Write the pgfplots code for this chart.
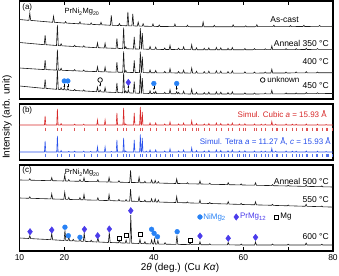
\documentclass[border=0pt]{standalone}
\usepackage{pgfplots}
\pgfplotsset{compat=1.18}
\usepackage{fontspec}
\setmainfont{Liberation Sans}
\usetikzlibrary{arrows.meta}
\definecolor{simred}{RGB}{215,40,40}
\definecolor{simblue}{RGB}{40,80,235}
\definecolor{nimg}{RGB}{40,130,245}
\definecolor{prmg}{RGB}{75,60,235}
\pgfplotsset{
  panel/.style={scale only axis, width=313.5pt, xmin=10, xmax=80,
    ytick=\empty, tick align=inside, major tick length=4pt, minor tick length=4pt,
    axis line style={line width=1.1pt, black},
    every tick/.style={line width=0.8pt, black},
    /pgf/number format/assume math mode=true},
  trace/.style={black!90, line width=0.6pt},
}
\newcommand{\lab}{\fontsize{8.5}{10}\selectfont}
\newcommand{\sml}{\fontsize{8}{9.5}\selectfont}
\begin{document}
\begin{tikzpicture}
\useasboundingbox (0,0) rectangle (339pt,275pt);
% ---------------- (a)
\begin{axis}[panel, at={(19.5pt,176pt)}, anchor=south west, height=98pt,
  ymin=176, ymax=274, xtick={10,20,...,80}, xtick pos=right, xticklabel=\empty]
% As-cast
\addplot[trace] coordinates {(10,255.5)
(12.1,254.6)(12.3,261.9)(12.5,254.6)
(17.4,252.7)(17.6,258.7)(17.8,252.7)
(20.1,251.9)(20.3,253.4)(20.5,251.9)
(23.3,251.2)(23.5,253.2)(23.7,251.2)
(25.8,250.6)(26.0,252.1)(26.2,250.6)
(28.0,250.2)(28.2,252.7)(28.4,250.2)
(30.3,249.7)(30.5,259.7)(30.7,249.7)
(32.1,249.5)(32.3,251.5)(32.5,249.5)
(34.0,249.2)(34.2,263.2)(34.4,249.2)
(35.1,249.1)(35.3,261.1)(35.5,249.1)
(36.3,248.9)(36.5,252.9)(36.7,248.9)
(37.4,248.8)(37.6,251.3)(37.8,248.8)
(39.6,248.6)(39.8,251.1)(40.0,248.6)
(41.0,248.5)(41.2,250.0)(41.4,248.5)
(44.5,248.4)(44.7,250.9)(44.9,248.4)
(47.3,248.3)(47.5,249.8)(47.7,248.3)
(50.8,248.2)(51.0,253.0)(51.2,248.2)
(53.3,248.2)(53.5,249.7)(53.7,248.2)
(57.5,248.2)(57.7,250.2)(57.9,248.2)
(60.3,248.2)(60.5,249.2)(60.7,248.2)
(62.8,248.3)(63.0,250.3)(63.2,248.3)
(66.6,248.3)(66.8,249.8)(67.0,248.3)
(70.3,248.4)(70.5,249.4)(70.7,248.4)
(73.3,248.5)(73.5,249.7)(73.7,248.5)
(76.8,248.6)(77.0,249.6)(77.2,248.6)
(80,248.7)};
% Anneal 350
\addplot[trace] coordinates {(10,232.5)
(15.52,230.3)(15.72,239.8)(15.92,230.3)
(18.26,229.5)(18.46,250.0)(18.66,229.5)
(19.09,229.2)(19.29,231.2)(19.49,229.2)
(22.11,228.5)(22.31,229.7)(22.51,228.5)
(24.14,228.0)(24.34,229.2)(24.54,228.0)
(27.21,227.3)(27.41,232.1)(27.61,227.3)
(28.91,227.0)(29.11,231.8)(29.31,227.0)
(31.55,226.6)(31.75,236.6)(31.95,226.6)
(33.05,226.3)(33.25,247.3)(33.45,226.3)
(33.53,226.3)(33.73,228.3)(33.93,226.3)
(35.42,226.0)(35.62,238.0)(35.82,226.0)
(36.78,225.9)(36.98,246.9)(37.18,225.9)
(37.22,225.9)(37.42,241.9)(37.62,225.9)
(38.95,225.7)(39.15,228.5)(39.35,225.7)
(40.21,225.6)(40.41,227.9)(40.61,225.6)
(42.23,225.5)(42.43,227.0)(42.63,225.5)
(43.41,225.5)(43.61,229.7)(43.81,225.5)
(45.32,225.4)(45.52,226.9)(45.72,225.4)
(46.44,225.3)(46.64,228.1)(46.84,225.3)
(48.25,225.3)(48.45,230.3)(48.65,225.3)
(49.32,225.2)(49.52,227.1)(49.72,225.2)
(51.05,225.2)(51.25,226.7)(51.45,225.2)
(52.08,225.2)(52.28,227.1)(52.48,225.2)
(53.76,225.2)(53.96,227.5)(54.16,225.2)
(54.74,225.2)(54.94,227.1)(55.14,225.2)
(56.36,225.2)(56.56,226.7)(56.76,225.2)
(57.32,225.2)(57.52,227.5)(57.72,225.2)
(60.13,225.2)(60.33,226.5)(60.53,225.2)
(62.27,225.3)(62.47,226.4)(62.67,225.3)
(64.67,225.3)(64.87,226.3)(65.07,225.3)
(66.14,225.3)(66.34,229.1)(66.54,225.3)
(69.32,225.4)(69.52,226.4)(69.72,225.4)
(71.58,225.4)(71.78,226.4)(71.98,225.4)
(73.83,225.5)(74.03,226.8)(74.23,225.5)
(76.34,225.6)(76.54,226.4)(76.74,225.6)
(80,225.7)};
% Anneal 400
\addplot[trace] coordinates {(10,207)
(15.52,205.4)(15.72,214.9)(15.92,205.4)
(18.26,204.9)(18.46,225.4)(18.66,204.9)
(19.09,204.7)(19.29,206.7)(19.49,204.7)
(22.11,204.2)(22.31,205.4)(22.51,204.2)
(24.14,203.8)(24.34,205.0)(24.54,203.8)
(27.21,203.4)(27.41,208.2)(27.61,203.4)
(28.91,203.1)(29.11,207.9)(29.31,203.1)
(31.55,202.8)(31.75,212.8)(31.95,202.8)
(33.05,202.7)(33.25,223.7)(33.45,202.7)
(33.53,202.6)(33.73,204.6)(33.93,202.6)
(35.42,202.5)(35.62,214.5)(35.82,202.5)
(36.78,202.4)(36.98,223.4)(37.18,202.4)
(37.22,202.4)(37.42,218.4)(37.62,202.4)
(38.95,202.2)(39.15,205.0)(39.35,202.2)
(40.21,202.2)(40.41,204.5)(40.61,202.2)
(42.23,202.1)(42.43,203.6)(42.63,202.1)
(43.41,202.1)(43.61,206.3)(43.81,202.1)
(45.32,202.0)(45.52,203.5)(45.72,202.0)
(46.44,202.0)(46.64,204.8)(46.84,202.0)
(48.25,201.9)(48.45,206.9)(48.65,201.9)
(49.32,201.9)(49.52,203.8)(49.72,201.9)
(51.05,201.9)(51.25,203.4)(51.45,201.9)
(52.08,201.9)(52.28,203.8)(52.48,201.9)
(53.76,201.9)(53.96,204.2)(54.16,201.9)
(54.74,201.9)(54.94,203.8)(55.14,201.9)
(56.36,201.9)(56.56,203.4)(56.76,201.9)
(57.32,201.9)(57.52,204.2)(57.72,201.9)
(60.13,201.9)(60.33,203.2)(60.53,201.9)
(62.27,201.9)(62.47,203.0)(62.67,201.9)
(64.67,202.0)(64.87,203.0)(65.07,202.0)
(66.14,202.0)(66.34,205.8)(66.54,202.0)
(69.32,202.0)(69.52,203.0)(69.72,202.0)
(71.58,202.1)(71.78,203.1)(71.98,202.1)
(73.83,202.1)(74.03,203.4)(74.23,202.1)
(76.34,202.2)(76.54,203.0)(76.74,202.2)
(80,202.2)};
% Anneal 450
\addplot[trace] coordinates {(10,189)
(15.52,186.6)(15.72,195.6)(15.92,186.6)
(18.26,185.7)(18.46,205.2)(18.66,185.7)
(19.09,185.4)(19.29,187.3)(19.49,185.4)
(19.8,185.2)(20.0,186.8)(20.2,185.2)
(20.6,184.9)(20.8,186.5)(21.0,184.9)
(22.11,184.5)(22.31,185.6)(22.51,184.5)
(24.14,184.0)(24.34,185.1)(24.54,184.0)
(27.21,183.3)(27.41,187.9)(27.61,183.3)
(27.8,183.2)(28.0,185.0)(28.2,183.2)
(28.91,182.9)(29.11,187.5)(29.31,182.9)
(31.55,182.5)(31.75,192.0)(31.95,182.5)
(33.05,182.2)(33.25,202.2)(33.45,182.2)
(33.53,182.2)(33.73,184.1)(33.93,182.2)
(34.1,182.1)(34.3,185.1)(34.5,182.1)
(35.42,181.9)(35.62,193.3)(35.82,181.9)
(36.78,181.7)(36.98,201.7)(37.18,181.7)
(37.22,181.7)(37.42,196.9)(37.62,181.7)
(38.95,181.5)(39.15,184.2)(39.35,181.5)
(39.8,181.4)(40.0,183.0)(40.2,181.4)
(40.25,181.4)(40.41,183.6)(40.61,181.4)
(42.23,181.3)(42.43,182.7)(42.63,181.3)
(43.41,181.3)(43.61,185.3)(43.81,181.3)
(44.9,181.2)(45.1,183.4)(45.3,181.2)
(45.35,181.2)(45.52,182.6)(45.72,181.2)
(46.44,181.1)(46.64,183.8)(46.84,181.1)
(48.25,181.0)(48.45,185.8)(48.65,181.0)
(49.32,181.0)(49.52,182.8)(49.72,181.0)
(51.05,181.0)(51.25,182.4)(51.45,181.0)
(52.08,181.0)(52.28,182.8)(52.48,181.0)
(53.76,181.0)(53.96,183.2)(54.16,181.0)
(54.74,181.0)(54.94,182.8)(55.14,181.0)
(56.36,181.0)(56.56,182.4)(56.76,181.0)
(57.32,181.0)(57.52,183.2)(57.72,181.0)
(60.13,181.0)(60.33,182.2)(60.53,181.0)
(62.27,181.0)(62.47,182.0)(62.67,181.0)
(64.67,181.1)(64.87,182.0)(65.07,181.1)
(66.14,181.1)(66.34,184.7)(66.54,181.1)
(69.32,181.2)(69.52,182.1)(69.72,181.2)
(71.58,181.2)(71.78,182.1)(71.98,181.2)
(73.83,181.3)(74.03,182.5)(74.23,181.3)
(76.34,181.4)(76.54,182.2)(76.74,181.4)
(80,181.5)};
% arrows
\addplot[black, line width=0.45pt, -{Stealth[length=1.8pt,width=1.8pt]},
  quiver={u=\thisrow{u}, v=\thisrow{v}}] table {
x y u v
20.0 190.8 0 -3.6
20.8 190.8 0 -3.6
28.0 192.0 0 -3.5
34.3 189.6 0 -3.2
40.0 188.9 0 -3.8
45.1 188.9 0 -3.8
};
\addplot[only marks, mark=*, mark size=2.4pt, color=nimg] coordinates {(20.0,194)(20.8,194)(40.0,191.5)(45.1,191.5)};
\addplot[only marks, mark=diamond*, mark size=3.2pt, color=prmg] coordinates {(34.3,192.6)};
\addplot[only marks, mark=o, mark size=2.3pt, black, mark options={line width=0.7pt}] coordinates {(28.0,195)(64.3,195)};
\node[anchor=west, font=\sml, inner sep=0pt] at (axis cs:65.3,195) {unknown};
\node[anchor=west, font=\sml, inner sep=0pt] at (axis cs:10.6,268) {(a)};
\node[font=\fontsize{7.5}{9}\selectfont, inner sep=0pt] at (axis cs:23.95,263) {PrNi\textsubscript{2}Mg\textsubscript{20}};
\node[anchor=east, font=\lab, inner sep=0pt] at (axis cs:72.4,255.7) {As-cast};
\node[anchor=east, font=\lab, inner sep=0pt] at (axis cs:79.1,232) {Anneal 350 °C};
\node[anchor=east, font=\lab, inner sep=0pt] at (axis cs:79.1,213) {400 °C};
\node[anchor=east, font=\lab, inner sep=0pt] at (axis cs:79.1,189) {450 °C};
\end{axis}
% ---------------- (b)
\begin{axis}[panel, at={(19.5pt,115pt)}, anchor=south west, height=56pt,
  ymin=115, ymax=171, xtick=\empty]
\addplot[simred, line width=0.6pt] coordinates {(10,150)
(15.57,150)(15.72,159)(15.87,150)
(18.31,150)(18.46,166)(18.61,150)
(19.14,150)(19.29,151.5)(19.44,150)
(22.16,150)(22.31,150.8)(22.46,150)
(24.19,150)(24.34,150.8)(24.49,150)
(27.26,150)(27.41,155)(27.56,150)
(28.96,150)(29.11,155)(29.26,150)
(31.6,150)(31.75,162)(31.9,150)
(33.1,150)(33.25,167)(33.4,150)
(33.58,150)(33.73,151)(33.88,150)
(35.47,150)(35.62,162)(35.77,150)
(36.83,150)(36.98,168)(37.13,150)
(37.27,150)(37.42,163)(37.57,150)
(39.0,150)(39.15,152)(39.3,150)
(40.26,150)(40.41,152)(40.56,150)
(42.28,150)(42.43,151)(42.58,150)
(43.46,150)(43.61,153)(43.76,150)
(45.37,150)(45.52,151)(45.67,150)
(46.49,150)(46.64,152)(46.79,150)
(48.3,150)(48.45,154)(48.6,150)
(49.37,150)(49.52,151.5)(49.67,150)
(51.1,150)(51.25,151)(51.4,150)
(52.13,150)(52.28,151.5)(52.43,150)
(53.81,150)(53.96,152)(54.11,150)
(54.79,150)(54.94,151.5)(55.09,150)
(56.41,150)(56.56,151.2)(56.71,150)
(57.37,150)(57.52,152)(57.67,150)
(58.94,150)(59.09,151)(59.24,150)
(60.18,150)(60.33,151.2)(60.48,150)
(62.32,150)(62.47,151)(62.62,150)
(63.83,150)(63.98,150.8)(64.13,150)
(64.72,150)(64.87,150.8)(65.02,150)
(66.19,150)(66.34,153.5)(66.49,150)
(67.06,150)(67.21,150.8)(67.36,150)
(69.37,150)(69.52,151)(69.67,150)
(70.78,150)(70.93,150.8)(71.08,150)
(71.63,150)(71.78,150.8)(71.93,150)
(73.88,150)(74.03,151)(74.18,150)
(76.39,150)(76.54,150.8)(76.69,150)
(78.32,150)(78.47,150.6)(78.62,150)
(80,150)};
\addplot[simblue, line width=0.6pt] coordinates {(10,123)
(15.57,123)(15.72,134)(15.87,123)
(18.31,123)(18.46,139)(18.61,123)
(19.14,123)(19.29,124.5)(19.44,123)
(20.85,123)(21.0,123.6)(21.15,123)
(22.16,123)(22.31,123.8)(22.46,123)
(24.19,123)(24.34,123.8)(24.49,123)
(25.75,123)(25.9,123.6)(26.05,123)
(27.26,123)(27.41,128)(27.56,123)
(28.96,123)(29.11,128)(29.26,123)
(30.35,123)(30.5,123.6)(30.65,123)
(31.6,123)(31.75,135)(31.9,123)
(33.1,123)(33.25,137)(33.4,123)
(33.58,123)(33.73,124)(33.88,123)
(35.47,123)(35.62,135)(35.77,123)
(36.83,123)(36.98,140.5)(37.13,123)
(37.27,123)(37.42,137)(37.57,123)
(38.15,123)(38.3,123.8)(38.45,123)
(39.0,123)(39.15,125)(39.3,123)
(40.26,123)(40.41,125)(40.56,123)
(42.28,123)(42.43,124)(42.58,123)
(43.46,123)(43.61,126)(43.76,123)
(45.37,123)(45.52,124)(45.67,123)
(46.49,123)(46.64,125)(46.79,123)
(48.3,123)(48.45,127)(48.6,123)
(49.37,123)(49.52,124.5)(49.67,123)
(51.1,123)(51.25,124)(51.4,123)
(52.13,123)(52.28,124.5)(52.43,123)
(53.81,123)(53.96,125)(54.11,123)
(54.79,123)(54.94,124.5)(55.09,123)
(56.41,123)(56.56,124.2)(56.71,123)
(57.37,123)(57.52,125)(57.67,123)
(58.94,123)(59.09,124)(59.24,123)
(60.18,123)(60.33,124.2)(60.48,123)
(62.32,123)(62.47,124)(62.62,123)
(63.83,123)(63.98,123.8)(64.13,123)
(64.72,123)(64.87,123.8)(65.02,123)
(66.19,123)(66.34,126.5)(66.49,123)
(67.06,123)(67.21,123.8)(67.36,123)
(69.37,123)(69.52,124)(69.67,123)
(70.78,123)(70.93,123.8)(71.08,123)
(71.63,123)(71.78,123.8)(71.93,123)
(73.88,123)(74.03,124)(74.18,123)
(76.39,123)(76.54,123.8)(76.69,123)
(78.32,123)(78.47,123.6)(78.62,123)
(80,123)};
\addplot[simred!80, only marks, mark=|, mark size=1.5pt, mark options={line width=0.35pt}] coordinates {
(15.72,145.8)(18.46,145.8)(19.29,145.8)(22.31,145.8)(24.34,145.8)(27.41,145.8)(29.11,145.8)
(31.75,145.8)(33.25,145.8)(33.73,145.8)(35.62,145.8)(36.98,145.8)(37.42,145.8)(39.15,145.8)
(40.41,145.8)(42.43,145.8)(43.61,145.8)(45.52,145.8)(46.64,145.8)(47.00,145.8)(48.45,145.8)
(49.52,145.8)(49.87,145.8)(51.25,145.8)(52.28,145.8)(53.96,145.8)(54.94,145.8)(56.56,145.8)
(57.52,145.8)(59.09,145.8)(60.03,145.8)(60.33,145.8)(62.47,145.8)(62.78,145.8)(63.98,145.8)
(64.87,145.8)(66.34,145.8)(67.21,145.8)(67.50,145.8)(68.66,145.8)(69.52,145.8)(70.93,145.8)
(71.78,145.8)(73.19,145.8)(74.03,145.8)(74.31,145.8)(75.42,145.8)(76.26,145.8)(76.54,145.8)
(77.64,145.8)(78.47,145.8)(78.74,145.8)(79.84,145.8)};
\addplot[simblue!80, only marks, mark=|, mark size=1.5pt, mark options={line width=0.35pt}] coordinates {
(15.72,119.5)(18.46,119.5)(19.29,119.5)(21.0,119.5)(22.31,119.5)(24.34,119.5)(25.9,119.5)(27.41,119.5)(29.11,119.5)
(30.5,119.5)(31.75,119.5)(33.25,119.5)(33.73,119.5)(34.6,119.5)(35.62,119.5)(36.98,119.5)(37.42,119.5)(38.3,119.5)(39.15,119.5)
(40.41,119.5)(41.3,119.5)(42.43,119.5)(43.61,119.5)(44.2,119.5)(45.52,119.5)(46.64,119.5)(47.00,119.5)(48.45,119.5)
(49.52,119.5)(49.87,119.5)(50.6,119.5)(51.25,119.5)(52.28,119.5)(53.96,119.5)(54.94,119.5)(55.8,119.5)(56.56,119.5)
(57.52,119.5)(58.5,119.5)(59.09,119.5)(60.03,119.5)(60.33,119.5)(61.2,119.5)(62.47,119.5)(62.78,119.5)(63.98,119.5)
(64.87,119.5)(65.5,119.5)(66.34,119.5)(67.21,119.5)(67.50,119.5)(68.66,119.5)(69.52,119.5)(70.93,119.5)
(71.78,119.5)(72.4,119.5)(73.19,119.5)(74.03,119.5)(74.31,119.5)(75.42,119.5)(76.26,119.5)(76.54,119.5)
(77.64,119.5)(78.47,119.5)(78.74,119.5)(79.0,119.5)(79.84,119.5)};
\node[anchor=west, font=\sml, inner sep=0pt] at (axis cs:10.6,165) {(b)};
\node[anchor=east, font=\sml, text=simred, inner sep=0pt] at (axis cs:78.65,161) {Simul. Cubic \textit{a} = 15.93 Å};
\node[anchor=east, font=\sml, text=simblue, inner sep=0pt] at (axis cs:79.55,133) {Simul. Tetra \textit{a} = 11.27 Å, \textit{c} = 15.93 Å};
\end{axis}
% ---------------- (c)
\begin{axis}[panel, at={(19.5pt,24pt)}, anchor=south west, height=86pt,
  ymin=24, ymax=110, xtick={10,20,40,60,80}, minor xtick={30,50,70}, xtick pos=left,
  xticklabel style={font=\fontsize{8.5}{10}\selectfont}]
% 500
\addplot[trace] coordinates {(10,95)
(12.1,94.8)(12.3,96.3)(12.5,94.8)
(17.0,94.3)(17.2,97.3)(17.4,94.3)
(19.9,94.0)(20.1,100.0)(20.3,94.0)
(20.8,93.9)(21.0,95.4)(21.2,93.9)
(23.3,93.7)(23.5,95.2)(23.7,93.6)
(24.2,93.6)(24.4,97.1)(24.6,93.5)
(27.3,93.3)(27.5,95.3)(27.7,93.2)
(29.8,93.0)(30.0,97.5)(30.2,93.0)
(32.0,92.8)(32.2,94.3)(32.4,92.8)
(34.6,92.5)(34.8,104.5)(35.0,92.5)
(36.5,92.4)(36.7,97.8)(36.9,92.3)
(37.8,92.2)(38.0,93.7)(38.2,92.2)
(39.3,92.1)(39.5,95.0)(39.7,92.0)
(40.1,92.0)(40.3,94.5)(40.5,91.9)
(40.8,91.9)(41.0,93.4)(41.2,91.9)
(44.9,91.5)(45.1,96.0)(45.3,91.5)
(47.3,91.3)(47.5,92.3)(47.7,91.2)
(50.1,91.0)(50.3,94.0)(50.5,91.0)
(52.3,90.8)(52.5,91.8)(52.7,90.7)
(56.4,90.4)(56.6,92.3)(56.8,90.3)
(59.3,90.1)(59.5,91.1)(59.7,90.0)
(62.5,89.8)(62.7,92.2)(62.9,89.7)
(66.3,89.4)(66.5,90.4)(66.7,89.3)
(69.8,89.0)(70.0,89.8)(70.2,89.0)
(73.8,88.6)(74.0,90.1)(74.2,88.6)
(77.3,88.3)(77.5,89.1)(77.7,88.2)
(80,88)};
% 550
\addplot[trace] coordinates {(10,77.0)
(12.1,76.7)(12.3,78.2)(12.5,76.7)
(17.0,76.1)(17.2,81.1)(17.4,76.0)
(19.9,75.7)(20.1,82.7)(20.3,75.7)
(20.8,75.6)(21.0,77.6)(21.2,75.5)
(23.3,75.3)(23.5,77.3)(23.7,75.2)
(24.2,75.2)(24.4,80.6)(24.6,75.1)
(27.3,74.8)(27.5,77.2)(27.7,74.7)
(29.8,74.4)(30.0,80.4)(30.2,74.4)
(32.0,74.1)(32.2,75.6)(32.4,74.1)
(33.6,73.9)(33.8,75.4)(34.0,73.9)
(34.6,73.8)(34.8,85.8)(35.0,73.8)
(36.5,73.6)(36.7,78.0)(36.9,73.5)
(37.8,73.4)(38.0,74.9)(38.2,73.3)
(39.3,73.2)(39.5,76.2)(39.7,73.1)
(40.1,73.1)(40.3,76.1)(40.5,73.0)
(40.8,73.0)(41.0,75.0)(41.2,72.9)
(44.9,72.5)(45.1,78.4)(45.3,72.4)
(47.3,72.2)(47.5,73.1)(47.7,72.1)
(50.1,71.8)(50.3,74.8)(50.5,71.7)
(52.3,71.5)(52.5,72.5)(52.7,71.5)
(56.4,71.0)(56.6,73.4)(56.8,70.9)
(59.3,70.6)(59.5,71.6)(59.7,70.5)
(62.5,70.2)(62.7,73.2)(62.9,70.1)
(66.3,69.7)(66.5,70.7)(66.7,69.6)
(69.8,69.2)(70.0,70.0)(70.2,69.2)
(73.8,68.7)(74.0,70.7)(74.2,68.7)
(77.3,68.3)(77.5,69.0)(77.7,68.2)
(80,67.9)};
% 600
\addplot[trace] coordinates {(10,37)
(12.1,36.5)(12.3,39.4)(12.5,36.4)
(17.0,35.3)(17.2,41.7)(17.4,35.2)
(19.95,34.5)(20.15,44.5)(20.35,34.4)
(20.8,34.3)(21.0,37.8)(21.2,34.3)
(21.8,34.1)(22.0,35.6)(22.2,34.1)
(23.3,33.8)(23.5,36.8)(23.7,33.8)
(24.25,33.6)(24.45,42.1)(24.65,33.6)
(25.8,33.3)(26.0,34.8)(26.2,33.3)
(27.3,33.0)(27.5,37.5)(27.7,33.0)
(29.85,32.5)(30.05,42.5)(30.25,32.5)
(32.1,32.2)(32.3,34.6)(32.5,32.1)
(33.6,31.9)(33.8,34.9)(34.0,31.9)
(34.65,31.8)(34.85,59.8)(35.05,31.8)
(36.7,31.5)(36.9,35.5)(37.1,31.5)
(37.8,31.3)(38.0,33.3)(38.2,31.3)
(39.3,31.1)(39.5,35.1)(39.7,31.1)
(39.95,31.0)(40.15,36.0)(40.35,31.0)
(40.7,30.9)(40.9,34.4)(41.1,30.9)
(42.3,30.8)(42.5,32.3)(42.7,30.8)
(44.95,30.6)(45.15,39.6)(45.35,30.6)
(47.9,30.4)(48.1,32.4)(48.3,30.4)
(50.1,30.3)(50.3,33.3)(50.5,30.3)
(52.3,30.2)(52.5,31.2)(52.7,30.2)
(56.4,30.1)(56.6,32.6)(56.8,30.1)
(59.3,30.0)(59.5,31.0)(59.7,30.0)
(62.5,30.0)(62.7,33.0)(62.9,30.0)
(66.3,30.0)(66.5,31.0)(66.7,30.0)
(69.8,30.0)(70.0,30.8)(70.2,30.0)
(73.8,30.0)(74.0,32.0)(74.2,30.0)
(77.3,30.0)(77.5,30.8)(77.7,30.0)
(80,30)};
\addplot[only marks, mark=diamond*, mark size=3.2pt, color=prmg] coordinates {
(12.35,43.3)(17.2,45)(24.5,45.7)(27.45,39.3)(30.05,46)(34.85,64.3)(50.3,39)(56.6,36.7)(62.7,37.7)(58.4,58)};
\addplot[only marks, mark=*, mark size=2.4pt, color=nimg] coordinates {
(20.15,47.8)(20.9,39.3)(23.5,37.7)(39.5,45.7)(40.05,41.7)(40.8,38.3)(45.2,43.3)(50.3,58)};
\addplot[only marks, mark=square, mark size=2pt, black, mark options={line width=0.5pt}] coordinates {
(32.3,36.7)(33.8,39.3)(36.9,40.7)(48.2,35)(67.3,58)};
\node[anchor=west, font=\sml, text=nimg, inner sep=0pt] at (axis cs:51.0,58) {NiMg\textsubscript{2}};
\node[anchor=west, font=\sml, text=prmg, inner sep=0pt] at (axis cs:59.2,58) {PrMg\textsubscript{12}};
\node[anchor=west, font=\sml, inner sep=0pt] at (axis cs:68.2,58) {Mg};
\node[anchor=west, font=\sml, inner sep=0pt] at (axis cs:10.6,105) {(c)};
\node[font=\fontsize{7.5}{9}\selectfont, inner sep=0pt] at (axis cs:24.0,102) {PrNi\textsubscript{2}Mg\textsubscript{20}};
\node[anchor=east, font=\lab, inner sep=0pt] at (axis cs:79.1,94) {Anneal 500 °C};
\node[anchor=east, font=\lab, inner sep=0pt] at (axis cs:79.1,75) {550 °C};
\node[anchor=east, font=\lab, inner sep=0pt] at (axis cs:79.1,38) {600 °C};
\end{axis}
\node[rotate=90, font=\fontsize{10}{12}\selectfont, inner sep=0pt] at (7pt,158pt) {Intensity (arb. unit)};
\node[font=\fontsize{10}{12}\selectfont, inner sep=0pt] at (180pt,7pt) {2\textit{θ} (deg.) (Cu \textit{Kα})};
\end{tikzpicture}
\end{document}
